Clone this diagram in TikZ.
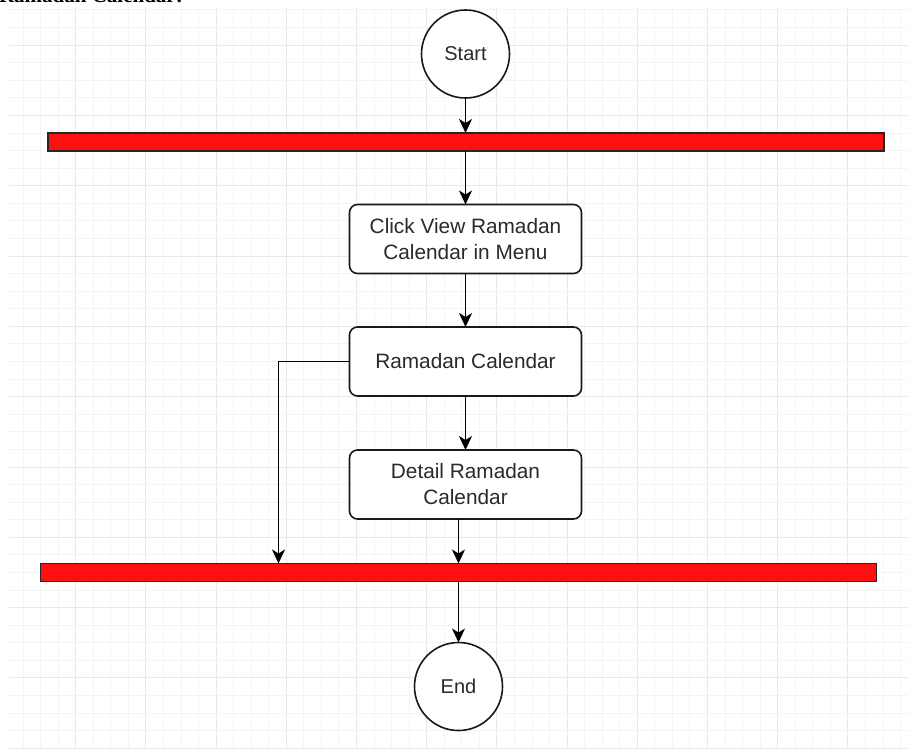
\documentclass[tikz,border=0pt]{standalone}
\usepackage{fontspec}
\setmainfont{Liberation Sans}
\newfontfamily\titlefont{Liberation Serif}
\usetikzlibrary{arrows.meta}
\definecolor{gridminor}{HTML}{F4F4F4}
\definecolor{gridmajor}{HTML}{E9E9E9}
\definecolor{barred}{HTML}{FF1010}
\definecolor{txt}{HTML}{2A2A2A}
\begin{document}
\begin{tikzpicture}[x=1pt,y=-1pt,
  every node/.style={inner sep=0pt, outer sep=0pt},
  termnode/.style={circle, draw=black!90, line width=1.6pt, fill=white, minimum size=88pt, font=\fontsize{20}{24}\selectfont, text=txt},
  actbox/.style={rectangle, rounded corners=8pt, draw=black!90, line width=1.6pt, fill=white, minimum width=232pt, minimum height=69pt, align=center, font=\fontsize{20.8}{26}\selectfont, text=txt},
  syncbar/.style={rectangle, draw=black!85, line width=1.7pt, fill=barred},
  flow/.style={line width=1.8pt, draw=black, -{Stealth[length=14pt,width=13pt,inset=4pt]}}
]
\useasboundingbox (0,0) rectangle (908,748);
\fill[white] (0,0) rectangle (908,748);
% grid
\begin{scope}
\clip (9,7) rectangle (908,748);
\foreach \k in {-4,...,48} {
  \pgfmathsetmacro{\xx}{75.6+17.55*\k}
  \pgfmathtruncatemacro{\mm}{mod(\k+400,4)}
  \ifnum\mm=0 \draw[gridmajor, line width=0.8pt] (\xx,0) -- (\xx,748);
  \else \draw[gridminor, line width=0.8pt] (\xx,0) -- (\xx,748); \fi
}
\foreach \k in {-2,...,40} {
  \pgfmathsetmacro{\yy}{45+17.58*\k}
  \pgfmathtruncatemacro{\mm}{mod(\k+400,4)}
  \ifnum\mm=0 \draw[gridmajor, line width=0.8pt] (0,\yy) -- (908,\yy);
  \else \draw[gridminor, line width=0.8pt] (0,\yy) -- (908,\yy); \fi
}
\end{scope}
% clipped title at top
\node[anchor=base west, font=\titlefont\bfseries\fontsize{21}{25}\selectfont] (title) at (-1,2.5) {Ramadan Calendar:};
% nodes
\node[termnode] (start) at (465.5,54) {Start};
\node[syncbar, minimum width=836pt, minimum height=18pt] (bar1) at (466,142) {};
\node[actbox] (box1) at (465.5,239) {Click View Ramadan\\Calendar in Menu};
\node[actbox] (box2) at (465.5,361.5) {Ramadan Calendar};
\node[actbox] (box3) at (465.5,484.5) {Detail Ramadan\\Calendar};
\node[syncbar, minimum width=836pt, minimum height=18pt] (bar2) at (458.5,572.5) {};
\node[termnode] (end) at (458.5,686.5) {End};
\coordinate (join) at (278.5,563.5);
% connectors
\draw[flow] (start.south) -- (start |- bar1.north);
\draw[flow] (box1 |- bar1.south) -- (box1.north);
\draw[flow] (box1.south) -- (box2.north);
\draw[flow] (box2.south) -- (box3.north);
\draw[flow] (box3.south -| end) -- (end |- bar2.north);
\draw[flow] (box2.west) -| (join);
\draw[flow] (end |- bar2.south) -- (end.north);
\end{tikzpicture}
\end{document}
